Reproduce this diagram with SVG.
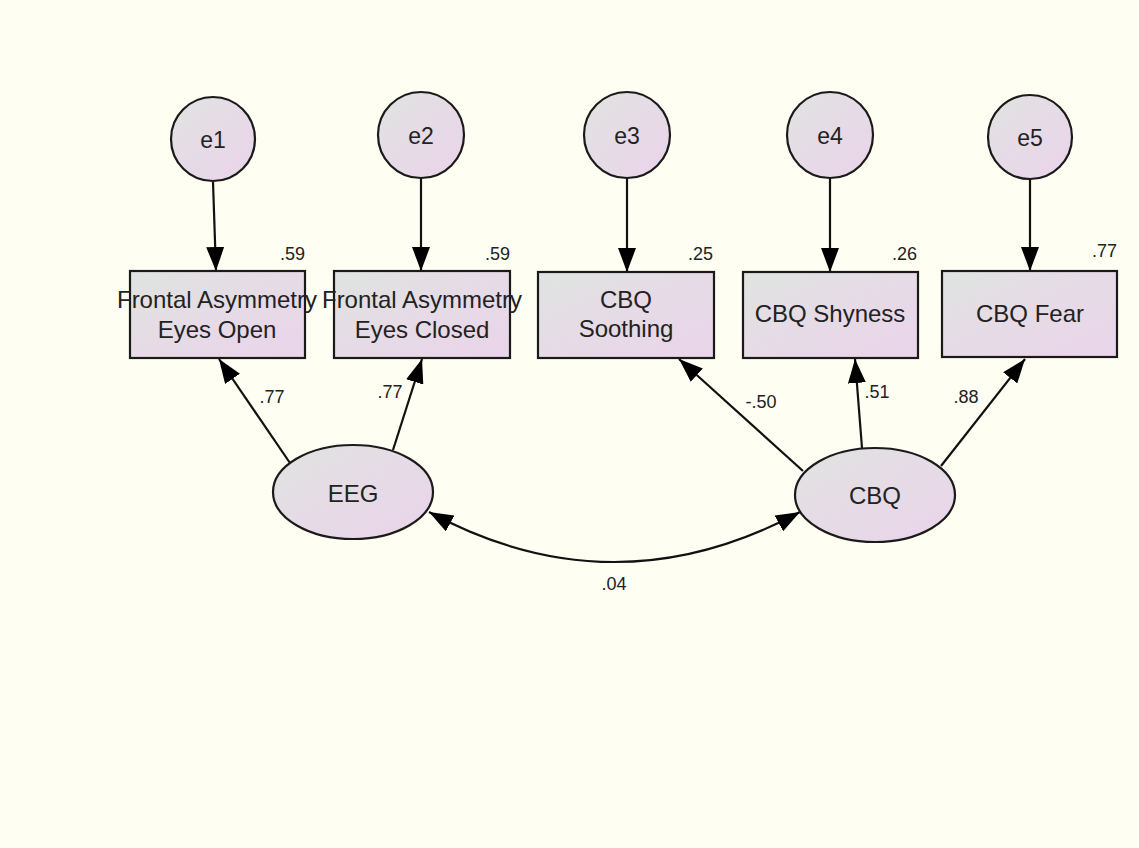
<svg xmlns="http://www.w3.org/2000/svg" width="1139" height="848" viewBox="0 0 1139 848">
<style>
.node{stroke:#1a1a1a;stroke-width:2.2;fill:url(#g)}
.lbl{font-family:"Liberation Sans",Arial,sans-serif;fill:#222;text-anchor:middle}
.big{font-size:23px}
.box{font-size:24px}
.sm{font-size:18px}
.ra{text-anchor:end}
.edge{stroke:#111;stroke-width:2.2;fill:none}
</style>
<defs>
<linearGradient id="g" x1="0" y1="0" x2="1" y2="1">
<stop offset="0" stop-color="#dfe4e0"/>
<stop offset="0.5" stop-color="#e6dbe6"/>
<stop offset="1" stop-color="#ead4ea"/>
</linearGradient>
<marker id="ah" markerUnits="userSpaceOnUse" markerWidth="24" markerHeight="18" refX="24" refY="9" orient="auto-start-reverse" viewBox="0 0 24 18">
<path d="M0,0 L24,9 L0,18 z" fill="#000"/>
</marker>
</defs>
<rect width="1139" height="848" fill="#fefef2"/>
<g id="connectors">
<line class="edge" x1="213" y1="182" x2="216" y2="271" marker-end="url(#ah)"/>
<line class="edge" x1="421" y1="178" x2="421" y2="271" marker-end="url(#ah)"/>
<line class="edge" x1="627" y1="178" x2="627" y2="272" marker-end="url(#ah)"/>
<line class="edge" x1="830" y1="178" x2="830" y2="272" marker-end="url(#ah)"/>
<line class="edge" x1="1030" y1="179" x2="1030" y2="271" marker-end="url(#ah)"/>
<line class="edge" x1="290" y1="463" x2="219" y2="359" marker-end="url(#ah)"/>
<line class="edge" x1="393" y1="450" x2="422" y2="359" marker-end="url(#ah)"/>
<line class="edge" x1="803" y1="471" x2="679" y2="359" marker-end="url(#ah)"/>
<line class="edge" x1="862" y1="448" x2="855" y2="359" marker-end="url(#ah)"/>
<line class="edge" x1="941" y1="466" x2="1025" y2="359" marker-end="url(#ah)"/>
<path class="edge" d="M429,512 Q614,612 800,512" marker-start="url(#ah)" marker-end="url(#ah)"/>
<text class="lbl sm" x="272" y="403">.77</text>
<text class="lbl sm" x="390" y="398">.77</text>
<text class="lbl sm" x="761" y="408">-.50</text>
<text class="lbl sm" x="877" y="398">.51</text>
<text class="lbl sm" x="966" y="403">.88</text>
<text class="lbl sm" x="614" y="590">.04</text>
</g>
<g id="e1"><circle class="node" cx="213" cy="139" r="42"/><text class="lbl big" x="213" y="148">e1</text></g>
<g id="e2"><circle class="node" cx="421" cy="135" r="43"/><text class="lbl big" x="421" y="144">e2</text></g>
<g id="e3"><circle class="node" cx="627" cy="135" r="43"/><text class="lbl big" x="627" y="144">e3</text></g>
<g id="e4"><circle class="node" cx="830" cy="135" r="43"/><text class="lbl big" x="830" y="144">e4</text></g>
<g id="e5"><circle class="node" cx="1030" cy="137" r="42"/><text class="lbl big" x="1030" y="146">e5</text></g>
<g id="fa_open"><rect class="node" x="130" y="271" width="175" height="87"/>
<text class="lbl box" x="217" y="308">Frontal Asymmetry</text><text class="lbl box" x="217" y="338">Eyes Open</text>
<text class="lbl sm ra" x="305" y="260">.59</text></g>
<g id="fa_closed"><rect class="node" x="334" y="271" width="176" height="87"/>
<text class="lbl box" x="422" y="308">Frontal Asymmetry</text><text class="lbl box" x="422" y="338">Eyes Closed</text>
<text class="lbl sm ra" x="510" y="260">.59</text></g>
<g id="cbq_soothing"><rect class="node" x="538" y="272" width="176" height="86"/>
<text class="lbl box" x="626" y="308">CBQ</text><text class="lbl box" x="626" y="337">Soothing</text>
<text class="lbl sm ra" x="713" y="260">.25</text></g>
<g id="cbq_shyness"><rect class="node" x="743" y="272" width="175" height="86"/>
<text class="lbl box" x="830" y="322">CBQ Shyness</text>
<text class="lbl sm ra" x="917" y="260">.26</text></g>
<g id="cbq_fear"><rect class="node" x="942" y="271" width="175" height="86"/>
<text class="lbl box" x="1030" y="322">CBQ Fear</text>
<text class="lbl sm ra" x="1117" y="257">.77</text></g>
<g id="EEG"><ellipse class="node" cx="353" cy="492" rx="80" ry="47"/><text class="lbl box" x="353" y="502">EEG</text></g>
<g id="CBQ"><ellipse class="node" cx="875" cy="495" rx="80" ry="47"/><text class="lbl box" x="875" y="504">CBQ</text></g>
</svg>
